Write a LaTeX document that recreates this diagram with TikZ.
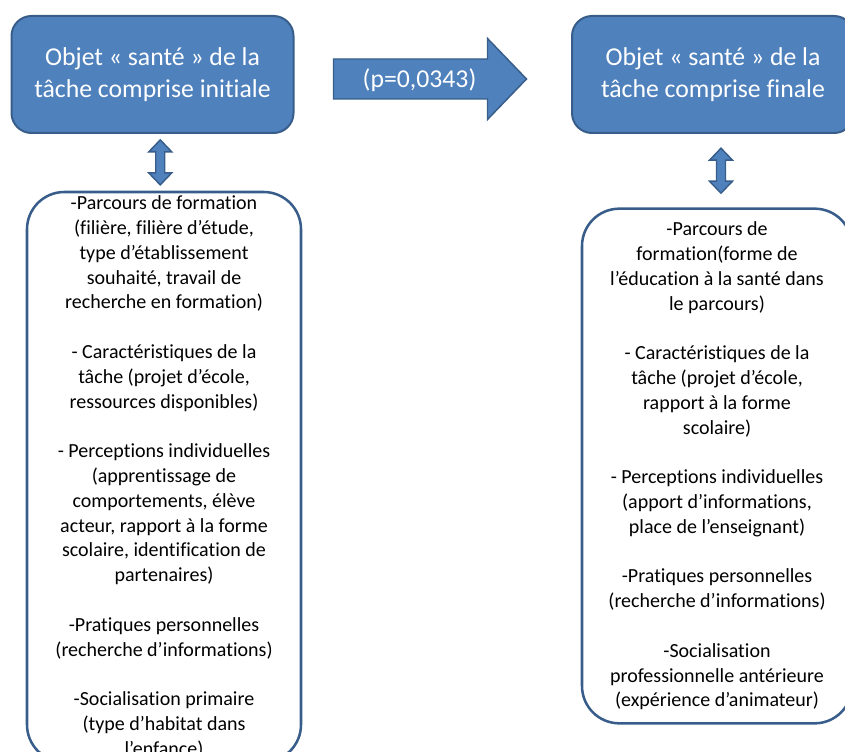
\documentclass[tikz,border=0pt]{standalone}
\usepackage{fontspec}
\setmainfont[Ligatures=NoCommon]{Carlito}
\usetikzlibrary{calc,positioning}
\definecolor{bleu}{HTML}{4F81BD}
\definecolor{bord}{HTML}{385D8A}

\begin{document}
\begin{tikzpicture}[x=0.75pt,y=-0.75pt,
  titre/.style={draw=bord,line width=1.5pt,fill=bleu,rounded corners=15pt,text=white,align=center,
    font=\fontsize{19.3}{24}\selectfont,minimum width=211.5pt,minimum height=87.75pt},
  liste/.style={draw=bord,line width=1.9pt,rounded corners=28pt,align=center,inner sep=0pt,
    font=\fontsize{15}{18.6}\selectfont},
  bloc/.style={draw=bord,line width=1.1pt,fill=bleu}]

\useasboundingbox (0,0) rectangle (845,752);
\clip (0,0) rectangle (845,752);

\node [titre] (init) at (152.5,74.5) {Objet «~santé~» de la\\tâche comprise initiale};
\node [titre] (final) at (713,74.5) {Objet «~santé~» de la\\tâche comprise finale};

\node [liste,minimum width=205.5pt,minimum height=427.5pt] (liste1) at (164,477) {%
-Parcours de formation\\(filière, filière d’étude,\\type d’établissement\\souhaité, travail de\\recherche en formation)\\[18.6pt]
- Caractéristiques de la\\tâche (projet d’école,\\ressources disponibles)\\[18.6pt]
- Perceptions individuelles\\(apprentissage de\\comportements, élève\\acteur, rapport à la forme\\scolaire, identification de\\partenaires)\\[18.6pt]
-Pratiques personnelles\\(recherche d’informations)\\[18.6pt]
-Socialisation primaire\\(type d’habitat dans\\l’enfance)};

\node [liste,minimum width=202.5pt,minimum height=386pt] (liste2) at (717,466) {%
-Parcours de\\formation(forme de\\l’éducation à la santé dans\\le parcours)\\[18.6pt]
- Caractéristiques de la\\tâche (projet d’école,\\rapport à la forme\\scolaire)\\[18.6pt]
- Perceptions individuelles\\(apport d’informations,\\place de l’enseignant)\\[18.6pt]
-Pratiques personnelles\\(recherche d’informations)\\[18.6pt]
-Socialisation\\professionnelle antérieure\\(expérience d’animateur)};

\coordinate (f) at ($(init.east)+(39,4.5)$);
\draw [bloc] (f) ++(0,-20) -- ++(154,0) -- ++(0,-20.5) -- ++(39,40.5) -- ++(-39,40.5)
  -- ++(0,-20.5) -- ++(-154,0) -- cycle;
\node [text=white,font=\fontsize{19.3}{24}\selectfont] (p) at ($(f)+(86,1.5)$) {(p=0,0343)};

\coordinate (d1) at ($(init.south)!.5!(liste1.north)+(2,0)$);
\coordinate (d2) at ($(final.south)!.5!(liste2.north)+(6,0)$);
\foreach \d in {d1,d2}
  \draw [bloc] (\d) ++(-4.5,-10.5) -- ++(-7,0) -- ++(11.5,-12) -- ++(11.5,12) -- ++(-7,0)
    -- ++(0,21) -- ++(7,0) -- ++(-11.5,12) -- ++(-11.5,-12) -- ++(7,0) -- cycle;

\end{tikzpicture}
\end{document}
